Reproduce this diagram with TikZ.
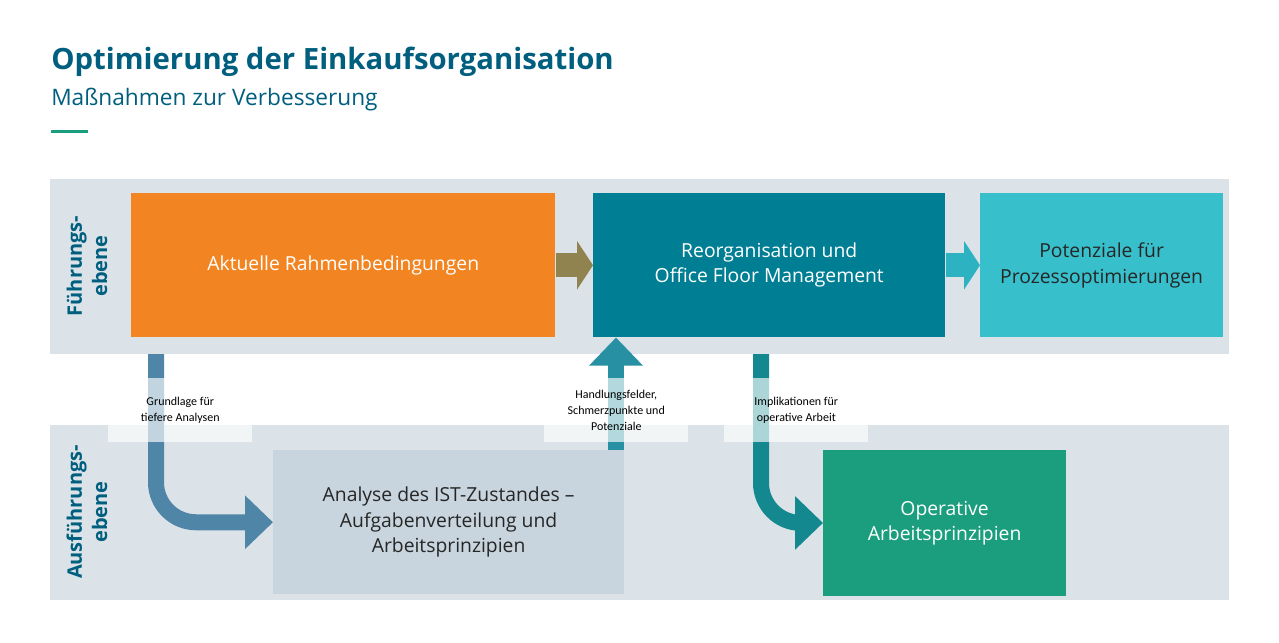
\documentclass[tikz,border=0pt]{standalone}
\usepackage{fontspec}
\setmainfont{Open Sans}
\newfontfamily\cond{Carlito}
\usetikzlibrary{arrows.meta,calc}
\definecolor{navy}{HTML}{005F7F}
\definecolor{band}{HTML}{DCE3E8}
\definecolor{orng}{HTML}{F28522}
\definecolor{teal}{HTML}{007F94}
\definecolor{cyan}{HTML}{38BFCC}
\definecolor{grey}{HTML}{C8D5DE}
\definecolor{green}{HTML}{1A9E7E}
\definecolor{arrA}{HTML}{4F86A8}
\definecolor{arrB}{HTML}{13888F}
\begin{document}
\begin{tikzpicture}[x=0.75pt,y=-0.75pt,
  box/.style={draw=none,anchor=north west,text=white,align=center,font=\fontsize{14.5}{19}\selectfont},
  lab/.style={fill=white,fill opacity=0.65,text opacity=1,anchor=north west,minimum width=108pt,minimum height=48pt,inner sep=0pt,align=center,font=\cond\fontsize{9}{12}\selectfont},
  flow/.style={line width=12pt,-{Triangle[width=39pt,length=21pt]}},
  chev/.style={line width=18pt,-{Triangle[width=36pt,length=12pt]}}]
\useasboundingbox (0,0) rectangle (1279,643);
\fill[white] (0,0) rectangle (1279,643);
\node[anchor=west,text=navy,font=\bfseries\fontsize{22}{26}\selectfont,inner sep=0] (t) at (51,62) {Optimierung der Einkaufsorganisation};
\node[anchor=west,text=navy,font=\fontsize{17}{20}\selectfont,inner sep=0] (s) at (51,100) {Maßnahmen zur Verbesserung};
\fill[green] (51,129.5) rectangle (88,133);
\fill[band] (50,179) rectangle (1229,354);
\fill[band] (50,425) rectangle (1229,600);
\node[rotate=90,text=navy,align=center,font=\bfseries\fontsize{15}{19}\selectfont] (f) at (87,266) {Führungs-\\ebene};
\node[rotate=90,text=navy,align=center,font=\bfseries\fontsize{15}{19}\selectfont] (a) at (87,512) {Ausführungs-\\ebene};
\node[box,fill=orng,minimum width=318pt,minimum height=108pt] (o) at (131,193) {Aktuelle Rahmenbedingungen};
\node[box,fill=teal,minimum width=264pt,minimum height=108pt] (r) at (593,193) {Reorganisation und\\Office Floor Management};
\node[box,fill=cyan,text=black!85,minimum width=182pt,minimum height=108pt] (p) at (980,193) {Potenziale für\\Prozessoptimierungen};
\node[box,fill=grey,text=black!85,minimum width=263pt,minimum height=108pt] (an) at (273,450) {Analyse des IST-Zustandes –\\Aufgabenverteilung und\\Arbeitsprinzipien};
\node[box,fill=green,minimum width=182pt,minimum height=109pt] (op) at (823,450) {Operative\\Arbeitsprinzipien};
\draw[chev,orng!60!teal] (o.east) -- (r.west);
\draw[chev,cyan!80!teal] (r.east) -- (p.west);
\draw[flow,arrA,rounded corners=30pt] (156,354) |- (an.west);
\draw[flow,arrB,rounded corners=30pt] (761,354) |- (op.west);
\draw[flow,teal!80!grey] (an.north -| 616,0) -- (r.south -| 616,0);
\node[lab] (l1) at (108,378) {Grundlage für\\tiefere Analysen};
\node[lab] (l2) at (544,378) {Handlungsfelder,\\Schmerzpunkte und\\Potenziale};
\node[lab] (l3) at (724,378) {Implikationen für\\operative Arbeit};
\end{tikzpicture}
\end{document}
